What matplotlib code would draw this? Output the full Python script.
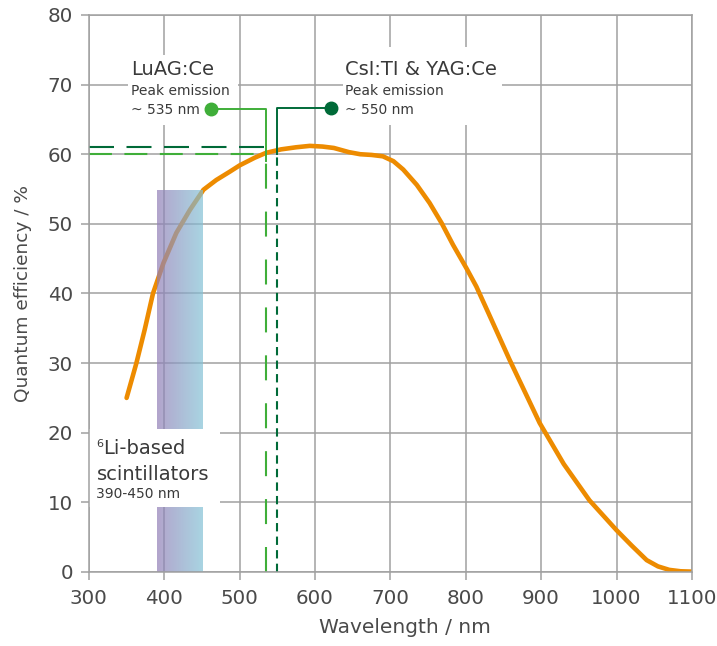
import numpy as np
import matplotlib.pyplot as plt
from matplotlib.patches import Rectangle
from matplotlib.colors import to_rgb

plt.rcParams['font.family'] = ['DejaVu Sans']

# quantum efficiency curve
wavelength = [350, 363, 374, 385, 399, 416, 434, 452, 469, 487, 500, 520, 535, 555, 575,
              593, 610, 625, 645, 660, 675, 690, 704, 717, 735, 752, 768, 783, 801,
              814, 830, 858, 880, 898, 930, 964, 1000, 1020, 1040, 1055, 1070, 1085, 1100]
qe = [25, 30, 34.8, 40, 44.4, 48.7, 52, 54.9, 56.3, 57.5, 58.4, 59.5, 60.2, 60.7, 61.0,
      61.2, 61.1, 60.9, 60.3, 60.0, 59.9, 59.7, 59.0, 57.8, 55.6, 53.0, 50.1, 47.0, 43.6,
      41.0, 37.2, 30.5, 25.5, 21.4, 15.5, 10.3, 6.0, 3.8, 1.7, 0.8, 0.3, 0.1, 0.05]

# scintillators
luag_peak = 535
luag_qe = 60
csi_peak = 550
csi_qe = 61
li_range = (390, 450)
li_top = 54.8

orange = '#ED8B00'
light_green = '#3FAE39'
dark_green = '#006A38'
grid_c = '#a0a0a0'
text_c = '#3a3a3a'

fig = plt.figure(figsize=(7.17, 6.46), dpi=100)
ax = fig.add_axes([0.124, 0.1146, 0.841, 0.8622])

ax.plot(wavelength, qe, color=orange, lw=3.3, solid_capstyle='round', zorder=2)

# gradient bar for the 6Li range
c1 = np.array(to_rgb('#927EB6'))
c2 = np.array(to_rgb('#83C2D6'))
t = np.linspace(0, 1, 100)[:, None]
grad = (c1 * (1 - t) + c2 * t)[None, :, :]
ax.imshow(grad, extent=(li_range[0], li_range[1], 0, li_top), aspect='auto',
          alpha=0.7, zorder=2.5, interpolation='bilinear')

# white label boxes
for (x0, x1, y0, y1) in [(300.5, 473.7, 9.3, 20.5), (352, 497.6, 64.2, 74.3),
                         (637, 848, 64.2, 75.4)]:
    ax.add_patch(Rectangle((x0, y0), x1 - x0, y1 - y0, facecolor='white',
                           edgecolor='none', zorder=3))

# dashed guide lines
ax.plot([300, luag_peak], [luag_qe, luag_qe], color=light_green, lw=1.5,
        dashes=(11, 6), zorder=4)
ax.plot([luag_peak, luag_peak], [0, luag_qe - 1], color=light_green, lw=1.5,
        dashes=(12, 11), zorder=4)
ax.plot([300, csi_peak], [csi_qe, csi_qe], color=dark_green, lw=1.5,
        dashes=(12, 6), zorder=4)
ax.plot([csi_peak, csi_peak], [0, csi_qe - 1], color=dark_green, lw=1.5,
        dashes=(4, 2.5), zorder=4)

# callout lines and dots
ax.plot([462, luag_peak, luag_peak], [66.5, 66.5, luag_qe - 1], color=light_green,
        lw=1.4, zorder=4)
ax.plot(462, 66.5, 'o', color=light_green, ms=9, zorder=5)
ax.plot([csi_peak, csi_peak, 621], [csi_qe - 1, 66.6, 66.6], color=dark_green,
        lw=1.4, zorder=4)
ax.plot(621, 66.6, 'o', color=dark_green, ms=9, zorder=5)

# texts
big = 14
small = 10
ax.text(356.5, 71.4, 'LuAG:Ce', fontsize=big, color=text_c, zorder=6)
ax.text(356.5, 68.5, 'Peak emission', fontsize=small, color=text_c, zorder=6)
ax.text(356.5, 65.8, '~ 535 nm', fontsize=small, color=text_c, zorder=6)
ax.text(639.5, 71.4, 'CsI:TI & YAG:Ce', fontsize=big, color=text_c, zorder=6)
ax.text(639.5, 68.5, 'Peak emission', fontsize=small, color=text_c, zorder=6)
ax.text(639.5, 65.8, '~ 550 nm', fontsize=small, color=text_c, zorder=6)

ax.text(310, 18.0, '6', fontsize=8, color=text_c, zorder=6)
ax.text(318.6, 16.9, 'Li-based', fontsize=big, color=text_c, zorder=6)
ax.text(310, 13.2, 'scintillators', fontsize=big, color=text_c, zorder=6)
ax.text(310, 10.6, '390-450 nm', fontsize=small, color=text_c, zorder=6)

ax.set_xlim(300, 1100)
ax.set_ylim(0, 80)
ax.set_xticks(range(300, 1101, 100))
ax.set_yticks(range(0, 81, 10))
ax.set_axisbelow(True)
ax.grid(True, color=grid_c, lw=1.1)
for s in ax.spines.values():
    s.set_color(grid_c)
    s.set_linewidth(1.1)
    s.set_zorder(7)
ax.tick_params(colors=grid_c, labelcolor='#4a4a4a', labelsize=14.3, length=5.5,
               width=1.1)
ax.tick_params(axis='x', pad=7)
ax.tick_params(axis='y', pad=6)
ax.set_xlabel('Wavelength / nm', fontsize=14.5, color='#4a4a4a', labelpad=7, x=0.524)
ax.set_ylabel('Quantum efficiency / %', fontsize=13.3, color='#4a4a4a', labelpad=11)

fig.savefig('out.png', dpi=100)
